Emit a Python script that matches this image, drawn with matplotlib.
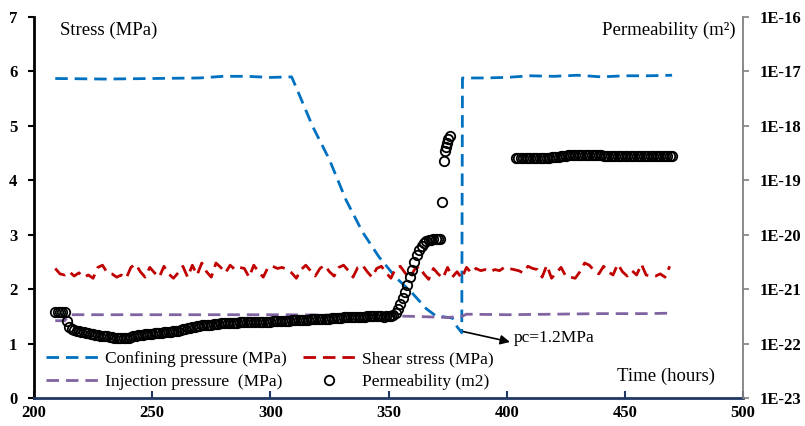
import numpy as np
import matplotlib
matplotlib.use('Agg')
import matplotlib.pyplot as plt
from matplotlib.ticker import FixedLocator, NullLocator

plt.rcParams['font.family'] = ['Liberation Serif', 'DejaVu Serif']

# ---- data ----
conf_t = [209, 230, 250, 270, 280, 290, 300, 309, 311, 318, 325, 332, 339, 346,
          353, 360, 366, 370, 377, 379, 381, 381.3, 390, 400, 410, 420, 430,
          440, 450, 460, 470]
conf_p = [5.87, 5.86, 5.87, 5.88, 5.91, 5.91, 5.89, 5.90, 5.70, 4.98, 4.38, 3.64,
          3.05, 2.59, 2.22, 1.93, 1.64, 1.51, 1.47, 1.31, 1.20, 5.88, 5.88, 5.89,
          5.92, 5.91, 5.93, 5.90, 5.92, 5.92, 5.93]

inj_t = [209, 213, 215, 250, 300, 340, 360, 375, 381, 383, 400, 420, 440, 460, 470]
inj_p = [1.42, 1.42, 1.53, 1.53, 1.53, 1.52, 1.50, 1.48, 1.50, 1.54, 1.53, 1.54,
         1.55, 1.55, 1.56]

shear_t = np.arange(209, 471, 2)
shear_p = [2.38, 2.28, 2.26, 2.32, 2.24, 2.30, 2.22, 2.26, 2.20, 2.40,
           2.44, 2.30, 2.28, 2.22, 2.26, 2.20, 2.40, 2.46, 2.32, 2.22,
           2.40, 2.30, 2.22, 2.42, 2.28, 2.20, 2.30, 2.42, 2.22, 2.44,
           2.26, 2.48, 2.32, 2.22, 2.48, 2.40, 2.30, 2.44, 2.36, 2.40,
           2.38, 2.22, 2.44, 2.32, 2.22, 2.40, 2.42, 2.38, 2.40, 2.36,
           2.30, 2.20, 2.36, 2.44, 2.34, 2.24, 2.38, 2.44, 2.32, 2.24,
           2.40, 2.44, 2.34, 2.22, 2.40, 2.44, 2.32, 2.22, 2.38, 2.42,
           2.30, 2.20, 2.38, 2.42, 2.30, 2.20, 2.36, 2.42, 2.28, 2.18,
           2.38, 2.28, 2.20, 2.40, 2.22, 2.32, 2.20, 2.40, 2.30, 2.38,
           2.34, 2.36, 2.32, 2.36, 2.34, 2.40, 2.38, 2.36, 2.34, 2.30,
           2.42, 2.38, 2.36, 2.22, 2.44, 2.20, 2.30, 2.40, 2.24, 2.22,
           2.20, 2.32, 2.48, 2.44, 2.34, 2.28, 2.42, 2.32, 2.26, 2.46,
           2.32, 2.24, 2.34, 2.26, 2.46, 2.26, 2.24, 2.24, 2.28, 2.22,
           2.42]

# permeability, stored as log10(k / m2)
perm_t1 = np.arange(209, 373)
perm_log1 = ([-21.42] * 5 + [-21.58, -21.70] +
             [-21.73, -21.75, -21.76, -21.77, -21.78, -21.79, -21.80, -21.81,
              -21.82, -21.83, -21.84, -21.85, -21.86, -21.86, -21.87, -21.87,
              -21.88, -21.88, -21.89, -21.89, -21.89, -21.90, -21.90, -21.89,
              -21.89] +
             [-21.88, -21.87, -21.86, -21.85, -21.84, -21.84, -21.83, -21.83,
              -21.82, -21.82, -21.81, -21.81, -21.80, -21.80, -21.79, -21.79,
              -21.78, -21.78, -21.77, -21.76, -21.76, -21.75, -21.74, -21.73,
              -21.72, -21.71, -21.70, -21.69, -21.68, -21.67, -21.66, -21.66,
              -21.65, -21.65, -21.65, -21.64, -21.64, -21.64, -21.63, -21.63] +
             [-21.63, -21.63, -21.62, -21.62, -21.62, -21.62, -21.61, -21.61,
              -21.61, -21.61, -21.61] + [-21.60] * 9 +
             [-21.59] * 4 + [-21.58] * 4 + [-21.57] * 4 + [-21.56] * 4 + [-21.55] * 4 +
             [-21.54] * 5 + [-21.53] * 5 + [-21.52] * 5 + [-21.51] * 5 +
             [-21.50] * 6 + [-21.50, -21.51, -21.50, -21.50, -21.49] +
             [-21.48, -21.44, -21.37, -21.28, -21.17, -21.05, -20.92, -20.78,
              -20.64, -20.50, -20.38, -20.28, -20.20, -20.15, -20.12, -20.10,
              -20.09, -20.08, -20.08, -20.08, -20.08])

perm_t2 = [372.5, 373.3, 373.7, 374.2, 374.6, 375.3, 376.0]
perm_log2 = [-19.40, -18.64, -18.47, -18.38, -18.32, -18.25, -18.18]

perm_t3 = np.arange(404, 471)
perm_log3 = ([-18.59] * 15 +
             [-18.58, -18.58, -18.57, -18.57, -18.56, -18.56, -18.55] +
             [-18.54, -18.54] + [-18.53] * 11 + [-18.54, -18.54] +
             [-18.55] * 30)

perm_t = np.concatenate([perm_t1, perm_t2, perm_t3])
perm_k = 10.0 ** np.array(perm_log1 + perm_log2 + perm_log3)

x_ticks = [200, 250, 300, 350, 400, 450, 500]
y_ticks = [0, 1, 2, 3, 4, 5, 6, 7]
k_ticks = [1e-23, 1e-22, 1e-21, 1e-20, 1e-19, 1e-18, 1e-17, 1e-16]
k_labels = ['1E-23', '1E-22', '1E-21', '1E-20', '1E-19', '1E-18', '1E-17', '1E-16']

BLUE = '#0070C0'
RED = '#C00000'
PURPLE = '#8064A2'
NAVY = '#1F3864'

fig = plt.figure(figsize=(8.05, 4.26), dpi=100)
ax = fig.add_axes([34 / 805, 28 / 426, 709 / 805, 381 / 426])
ax2 = ax.twinx()

lw = 2.0
l1, = ax.plot(conf_t, conf_p, color=BLUE, lw=lw, dashes=(4.5, 2.5),
              label='Confining pressure (MPa)')
l2, = ax.plot(shear_t, shear_p, color=RED, lw=lw, dashes=(4.5, 2.5),
              label='Shear stress (MPa)')
l3, = ax.plot(inj_t, inj_p, color=PURPLE, lw=lw, dashes=(4.5, 2.5),
              label='Injection pressure  (MPa)')
l4, = ax2.plot(perm_t, perm_k, ls='none', marker='o', ms=6.8, mfc='none',
               mec='black', mew=1.3, label='Permeability (m2)')

ax.set_xlim(200, 500)
ax.set_ylim(0, 7)
ax2.set_yscale('log')
ax2.set_ylim(1e-23, 1e-16)

ax.set_xticks(x_ticks)
ax.set_yticks(y_ticks)
ax2.yaxis.set_major_locator(FixedLocator(k_ticks))
ax2.yaxis.set_minor_locator(NullLocator())
ax2.set_yticklabels(k_labels)

for a in (ax, ax2):
    a.spines['top'].set_visible(False)
ax.spines['left'].set_color('black')
ax.spines['left'].set_linewidth(2.0)
ax.spines['bottom'].set_color(NAVY)
ax.spines['bottom'].set_linewidth(2.0)
ax2.spines['right'].set_color('#808080')
ax2.spines['right'].set_linewidth(1.3)
ax2.spines['left'].set_visible(False)
ax2.spines['bottom'].set_visible(False)
ax.spines['right'].set_visible(False)

ax.tick_params(axis='y', direction='out', length=4, width=1.5, color='black',
               pad=8, labelsize=12)
ax.tick_params(axis='x', direction='in', length=5, width=1.5, color=NAVY,
               pad=5, labelsize=12)
ax2.tick_params(axis='y', direction='out', length=4, width=1.2, color='#808080',
                pad=8, labelsize=12)
for lab in ax.get_xticklabels() + ax.get_yticklabels() + ax2.get_yticklabels():
    lab.set_fontweight('bold')

ax.text(0.037, 0.966, 'Stress (MPa)', transform=ax.transAxes, fontsize=13.5,
        ha='left', va='center')
ax.text(0.989, 0.966, 'Permeability (m²)', transform=ax.transAxes, fontsize=13.5,
        ha='right', va='center')
ax.text(0.960, 0.058, 'Time (hours)', transform=ax.transAxes, fontsize=13.5,
        ha='right', va='center')

ax2.annotate('', xy=(401.4, 10 ** (1.03 - 23)), xytext=(381.7, 10 ** (1.22 - 23)),
             arrowprops=dict(arrowstyle='-|>', color='black', lw=1.2,
                             shrinkA=0, shrinkB=0, mutation_scale=14))
ax.text(402.8, 1.10, 'pc=1.2MPa', fontsize=12.5, ha='left', va='center')

ax2.legend(handles=[l1, l3, l2, l4], ncol=2, loc='lower left',
           bbox_to_anchor=(0.0, -0.01), frameon=False, fontsize=12.5,
           handlelength=3.0, handletextpad=0.4, columnspacing=0.9,
           labelspacing=0.35, borderaxespad=0.3)

fig.savefig('out.png', dpi=100, facecolor='white')
